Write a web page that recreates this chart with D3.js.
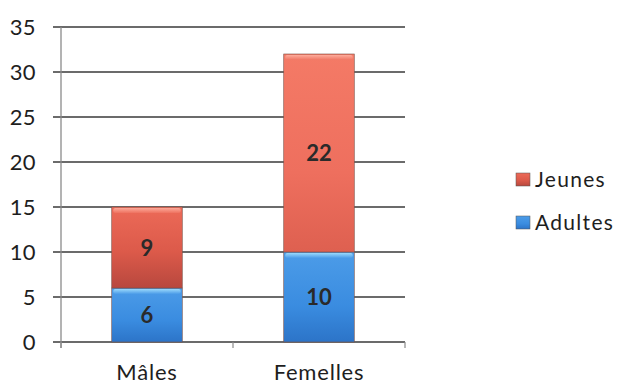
<!DOCTYPE html>
<html>
<head>
<meta charset="utf-8">
<script src="https://cdn.jsdelivr.net/npm/d3@7"></script>
<style>
  html, body { margin: 0; padding: 0; background: #fff; }
  svg { display: block; font-family: Lato, "Open Sans", sans-serif; }
</style>
</head>
<body>
<svg id="chart" width="619" height="387"></svg>
<script>
// Effectifs par sexe et par classe d'âge
const categories = ["Mâles", "Femelles"];
const seriesNames = ["Adultes", "Jeunes"];
const adultes = [6, 10];
const jeunes = [9, 22];
const yTicks = [0, 5, 10, 15, 20, 25, 30, 35];

const svg = d3.select("#chart");
const margin = { left: 61, right: 214, top: 27, bottom: 45 };
const W = 619, H = 387;
const x0 = margin.left, x1 = W - margin.right;
const yBottom = H - margin.bottom, yTop = margin.top;
const FONT = "Lato, 'Open Sans', sans-serif";

const x = d3.scaleBand().domain(categories).range([x0, x1])
  .paddingInner(0.59).paddingOuter(0.295);
const xCat = d3.scaleBand().domain(categories).range([x0, x1]);
const y = d3.scaleLinear().domain([0, 35]).range([yBottom, yTop]);

const defs = svg.append("defs");
function grad(id, stops) {
  const g = defs.append("linearGradient").attr("id", id)
    .attr("x1", 0).attr("y1", 0).attr("x2", 0).attr("y2", 1);
  stops.forEach(([o, c]) => g.append("stop").attr("offset", o).attr("stop-color", c));
}
grad("gRed", [[0, "#ec6a58"], [0.55, "#dc5a4a"], [1, "#b8483e"]]);
grad("gRedLight", [[0, "#f47a66"], [0.6, "#ee6f5e"], [1, "#de6050"]]);
grad("gBlue", [[0, "#4c9ce8"], [0.6, "#3a8ce0"], [1, "#2c74c8"]]);
grad("gBevelRed", [[0, "#ffb4a4"], [1, "#ef7462"]]);
grad("gBevelBlue", [[0, "#a8e4ff"], [1, "#4c9ce8"]]);

// Gridlines with short outside ticks
const grid = svg.append("g");
yTicks.forEach(t => {
  grid.append("line")
    .attr("x1", x0 - 8).attr("x2", x1)
    .attr("y1", y(t)).attr("y2", y(t))
    .attr("stroke", "#3a3a3a").attr("stroke-width", 1.6);
});

// Y axis labels
const yAxis = d3.axisLeft(y).tickValues(yTicks).tickSize(0).tickPadding(25);
svg.append("g").attr("transform", `translate(${x0},0)`).call(yAxis)
  .call(g => g.select(".domain").remove())
  .call(g => g.selectAll("text").attr("font-size", 22).attr("letter-spacing", 0.4)
    .attr("fill", "#1e1e1e").attr("font-family", FONT));

// Vertical axis line
svg.append("line").attr("x1", x0).attr("x2", x0)
  .attr("y1", yTop).attr("y2", yBottom + 6)
  .attr("stroke", "#8a8a8a").attr("stroke-width", 1.3);

// Category axis ticks and labels
const xAxis = d3.axisBottom(xCat).tickSize(0).tickPadding(22);
svg.append("g").attr("transform", `translate(0,${yBottom})`).call(xAxis)
  .call(g => g.select(".domain").remove())
  .call(g => g.selectAll("text").attr("font-size", 22).attr("letter-spacing", 0.8)
    .attr("fill", "#1e1e1e").attr("font-family", FONT));
[x0, xCat("Femelles"), x1].forEach(px => {
  svg.append("line").attr("x1", px).attr("x2", px)
    .attr("y1", yBottom).attr("y2", yBottom + 6)
    .attr("stroke", "#8a8a8a").attr("stroke-width", 1.2);
});

// Stacked bars
const stackData = categories.map((c, i) => ({ cat: c, Adultes: adultes[i], Jeunes: jeunes[i] }));
const stacked = d3.stack().keys(seriesNames)(stackData);
const fills = { Adultes: ["url(#gBlue)", "url(#gBlue)"], Jeunes: ["url(#gRed)", "url(#gRedLight)"] };
const bevel = { Adultes: "url(#gBevelBlue)", Jeunes: "url(#gBevelRed)" };

stacked.forEach(layer => {
  const g = svg.append("g");
  layer.forEach((d, i) => {
    const bx = x(d.data.cat), bw = x.bandwidth();
    const top = y(d[1]), bot = y(d[0]);
    g.append("rect").attr("x", bx).attr("y", top).attr("width", bw).attr("height", bot - top)
      .attr("fill", fills[layer.key][i]).attr("stroke", "#7a5048").attr("stroke-width", 0.6);
    g.append("rect").attr("x", bx + 1.5).attr("y", top + 1).attr("width", bw - 3).attr("height", 5)
      .attr("rx", 2).attr("fill", bevel[layer.key]).attr("opacity", 0.85);
    g.append("text").attr("x", bx + bw / 2).attr("y", (top + bot) / 2 + 8)
      .attr("text-anchor", "middle").attr("font-size", 22).attr("font-weight", "bold")
      .attr("fill", "#2a2a2a").text(d.data[layer.key]);
  });
});

// Legend
const legend = svg.append("g").attr("transform", "translate(516,173)");
const legendItems = [["Jeunes", "url(#gRed)"], ["Adultes", "url(#gBlue)"]];
legendItems.forEach(([name, fill], i) => {
  const row = legend.append("g").attr("transform", `translate(0,${i * 43})`);
  row.append("rect").attr("width", 14).attr("height", 13).attr("fill", fill)
    .attr("stroke", "#555").attr("stroke-width", 0.5);
  row.append("text").attr("x", 19).attr("y", 14).attr("font-size", 21)
    .attr("letter-spacing", 1.3).attr("fill", "#1e1e1e").text(name);
});
</script>
</body>
</html>
